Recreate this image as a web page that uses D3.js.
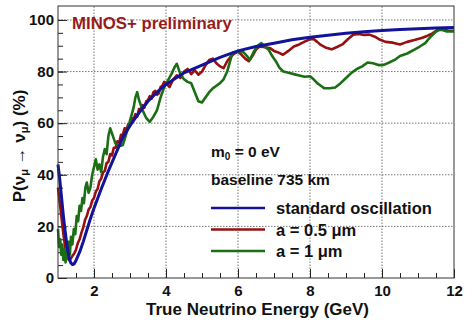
<!DOCTYPE html>
<html>
<head>
<meta charset="utf-8" />
<title>MINOS+ survival probability</title>
<script type="text/javascript" src="https://d3js.org/d3.v7.min.js"></script>
<style type="text/css">
    body { margin: 0; background: #fff; }
    svg text { font-family: "Liberation Sans", Arial, sans-serif; font-weight: bold; }
</style>
</head>
<body>
<svg width="465" height="323"></svg>
<script>
    // standard oscillation
    var stdE = [1.0, 1.05, 1.1, 1.15, 1.2, 1.25, 1.3, 1.35, 1.4, 1.45, 1.5, 1.6, 1.7, 1.8, 1.9, 2.0, 2.2, 2.4, 2.6, 2.8, 3.0, 3.25, 3.5, 3.75, 4.0, 4.5, 5.0, 5.5, 6.0, 6.5, 7.0, 7.5, 8.0, 8.5, 9.0, 9.5, 10.0, 10.5, 11.0, 11.5, 12.0];
    var stdP = [44, 38, 31, 24, 18, 12.5, 8.5, 6, 5.2, 5.5, 6.8, 10, 14, 18.5, 23, 27, 34.5, 41.5, 48, 54.5, 59, 64, 68.5, 72, 75, 79.5, 82.5, 85.5, 88, 89.7, 91, 92.3, 93.3, 94.1, 94.8, 95.4, 95.9, 96.3, 96.6, 96.9, 97.1];

    // a = 0.5 um
    var halfE = [1.0, 1.05, 1.1, 1.15, 1.2, 1.25, 1.3, 1.35, 1.4, 1.45, 1.5, 1.55, 1.6, 1.65, 1.7, 1.75, 1.8, 1.85, 1.9, 1.95, 2.0, 2.05, 2.1, 2.15, 2.2, 2.25, 2.3, 2.35, 2.4, 2.45, 2.5, 2.55, 2.6, 2.65, 2.7, 2.75, 2.8, 2.85, 2.9, 2.95, 3.0, 3.05, 3.1, 3.15, 3.2, 3.25, 3.3, 3.35, 3.4, 3.45, 3.5, 3.55, 3.6, 3.65, 3.7, 3.75, 3.8, 3.85, 3.9, 3.95, 4.0, 4.1, 4.2, 4.3, 4.4, 4.5, 4.6, 4.7, 4.8, 4.9, 5.0, 5.1, 5.2, 5.3, 5.4, 5.5, 5.6, 5.7, 5.8, 5.9, 6.0, 6.1, 6.2, 6.3, 6.4, 6.5, 6.6, 6.7, 6.8, 6.9, 7.0, 7.1, 7.25, 7.4, 7.55, 7.7, 7.85, 8.0, 8.1, 8.2, 8.3, 8.45, 8.6, 8.75, 8.9, 9.05, 9.2, 9.35, 9.5, 9.65, 9.8, 9.95, 10.1, 10.3, 10.5, 10.7, 10.9, 11.1, 11.25, 11.4, 11.55, 11.7, 11.85, 12.0];
    var halfP = [35, 29, 23, 17, 12, 8.5, 7, 7.5, 8.5, 9.5, 11, 13.5, 15, 17.5, 19.5, 22.5, 24, 26.5, 27.5, 30, 31, 33.5, 34.5, 37.5, 38.5, 41, 41.5, 44.5, 45, 48, 47.5, 50.5, 50.5, 53, 52.5, 55.5, 55.5, 58, 57.5, 59.5, 59, 62, 61.5, 63.5, 62.5, 65.5, 65.5, 67, 66, 68.5, 69, 70.5, 69.5, 72, 72.5, 71, 71.5, 74, 74.5, 76, 75.5, 74, 77, 78.5, 77.5, 80, 81, 79, 80.5, 78.8, 80, 82.5, 84.5, 85, 83.2, 82, 81.3, 84, 85.8, 87, 87.7, 86.5, 85, 84, 86, 88.5, 89.7, 89.5, 89.3, 89, 88, 87.5, 86.5, 88, 89.7, 90.5, 91.6, 92.5, 92.6, 91.5, 90.3, 89.2, 88.6, 89.5, 90.5, 92.5, 94.3, 94.6, 94.2, 94.3, 93.5, 92.3, 91.5, 91.2, 90.5, 91.5, 92.2, 93, 93.8, 94.8, 96.2, 96.3, 95.8, 95.8];

    // a = 1 um
    var oneE = [1.0, 1.03, 1.06, 1.09, 1.12, 1.15, 1.18, 1.21, 1.24, 1.27, 1.3, 1.33, 1.36, 1.4, 1.44, 1.48, 1.52, 1.56, 1.6, 1.64, 1.68, 1.72, 1.76, 1.8, 1.85, 1.9, 1.95, 2.0, 2.05, 2.1, 2.15, 2.2, 2.25, 2.3, 2.35, 2.4, 2.45, 2.5, 2.55, 2.6, 2.7, 2.8, 2.9, 3.0, 3.1, 3.15, 3.2, 3.25, 3.3, 3.35, 3.45, 3.55, 3.65, 3.75, 3.85, 3.95, 4.05, 4.15, 4.25, 4.3, 4.4, 4.5, 4.6, 4.7, 4.8, 4.9, 5.0, 5.1, 5.2, 5.3, 5.4, 5.5, 5.6, 5.7, 5.8, 5.87, 5.95, 6.05, 6.15, 6.25, 6.33, 6.45, 6.55, 6.65, 6.75, 6.85, 6.95, 7.05, 7.15, 7.26, 7.4, 7.55, 7.7, 7.85, 8.0, 8.1, 8.2, 8.3, 8.4, 8.55, 8.7, 8.85, 9.0, 9.15, 9.3, 9.45, 9.6, 9.75, 9.9, 10.05, 10.2, 10.35, 10.5, 10.7, 10.9, 11.05, 11.2, 11.35, 11.5, 11.6, 11.7, 11.8, 12.0];
    var oneP = [19, 12, 15, 9, 13, 7, 11, 6, 12, 8, 14, 9, 16, 13, 19, 17, 24, 22, 28, 26, 31, 29, 35, 37, 33, 35, 40, 43, 46, 42, 44, 41, 47, 50, 48, 55, 58, 56, 54, 52, 51, 51.5, 56, 61, 66, 70, 72, 69, 67, 65, 62, 60.5, 62.5, 65, 70, 74, 76.5, 79, 82, 83, 79, 77, 76, 75.5, 72, 68.5, 68, 70, 72, 73.5, 74.5, 75.5, 77, 80, 85, 87.5, 87.5, 88, 87.5, 86, 84.5, 88, 90, 91, 89.5, 88.5, 86, 84, 81.5, 80, 79.5, 79, 78.5, 78, 78.2, 77, 75.5, 74.5, 73.5, 73.5, 73.8, 75.5, 77.5, 79.5, 81, 82, 83.5, 83.2, 82.5, 82.6, 83.5, 84.5, 86, 87, 88.5, 89.7, 91, 93.5, 95.5, 96.2, 96, 95.5, 95.5];

    var xTicks = [2, 4, 6, 8, 10, 12];
    var yTicks = [0, 20, 40, 60, 80, 100];
    var legendNames = ["standard oscillation", "a = 0.5 \u03BCm", "a = 1 \u03BCm"];

    var svg = d3.select("svg");

    var x = d3.scaleLinear().domain([1, 12]).range([58, 454]);
    var y = d3.scaleLinear().domain([0, 105.4]).range([278, 6]);

    // grid
    var grid = svg.append("g").attr("stroke", "#555").attr("stroke-dasharray", "1.5,1.5").attr("stroke-width", 0.8);
    grid.selectAll(".gx").data(xTicks.slice(0, -1)).enter().append("line")
        .attr("x1", d => x(d)).attr("x2", d => x(d)).attr("y1", y(0)).attr("y2", y(105.4));
    grid.selectAll(".gy").data(yTicks.slice(1)).enter().append("line")
        .attr("x1", x(1)).attr("x2", x(12)).attr("y1", d => y(d)).attr("y2", d => y(d));

    // axes, ROOT style: ticks inside the frame
    var xAxis = d3.axisBottom(x).tickValues(xTicks).tickSize(-9).tickPadding(7).tickFormat(d3.format("d"));
    var xMinor = d3.axisBottom(x).tickValues(d3.range(1.5, 12, 0.5)).tickSize(-5).tickFormat("");
    var yAxis = d3.axisLeft(y).tickValues(yTicks).tickSize(-9).tickPadding(4).tickFormat(d3.format("d"));
    var yMinor = d3.axisLeft(y).tickValues(d3.range(5, 105, 5)).tickSize(-5).tickFormat("");

    [xAxis, xMinor].forEach(a => {
        svg.append("g").attr("transform", "translate(0," + y(0) + ")").call(a)
            .call(g => g.select(".domain").remove());
    });
    [yAxis, yMinor].forEach(a => {
        svg.append("g").attr("transform", "translate(" + x(1) + ",0)").call(a)
            .call(g => g.select(".domain").remove());
    });
    svg.selectAll(".tick line").attr("stroke", "#222");
    svg.selectAll(".tick text").attr("font-size", 15).attr("fill", "#111")
        .attr("font-family", "'Liberation Sans', Arial, sans-serif").attr("font-weight", "bold");

    // curves
    var line = d3.line().x(d => x(d[0])).y(d => y(d[1]));
    var series = [
        { e: halfE, p: halfP, color: "#971010", w: 2.6 },
        { e: oneE, p: oneP, color: "#1b6e14", w: 2.6 },
        { e: stdE, p: stdP, color: "#13139a", w: 3 }
    ];
    series.forEach(s => {
        svg.append("path")
            .datum(d3.zip(s.e, s.p))
            .attr("fill", "none")
            .attr("stroke", s.color)
            .attr("stroke-width", s.w)
            .attr("stroke-linejoin", "round")
            .attr("d", line);
    });

    // frame
    svg.append("rect").attr("x", x(1)).attr("y", y(105.4))
        .attr("width", x(12) - x(1)).attr("height", y(0) - y(105.4))
        .attr("fill", "none").attr("stroke", "#333").attr("stroke-width", 1);

    // titles
    svg.append("text").attr("x", 72).attr("y", 29).attr("font-size", 16.8).attr("fill", "#961c1c")
        .text("MINOS+ preliminary");

    svg.append("text").attr("x", 369).attr("y", 315).attr("text-anchor", "end").attr("font-size", 17).attr("fill", "#111")
        .text("True Neutrino Energy (GeV)");

    var yl = svg.append("text").attr("transform", "translate(25,146) rotate(-90)")
        .attr("text-anchor", "middle").attr("font-size", 17).attr("fill", "#111");
    yl.append("tspan").text("P(\u03BD");
    yl.append("tspan").attr("font-size", 11).attr("dy", 3).text("\u03BC");
    yl.append("tspan").attr("dy", -3).text(" \u2192 \u03BD");
    yl.append("tspan").attr("font-size", 11).attr("dy", 3).text("\u03BC");
    yl.append("tspan").attr("dy", -3).text(") (%)");

    // legend
    var m0 = svg.append("text").attr("x", 211).attr("y", 157).attr("font-size", 15.5).attr("fill", "#111");
    m0.append("tspan").text("m");
    m0.append("tspan").attr("font-size", 10).attr("dy", 3).text("0");
    m0.append("tspan").attr("dy", -3).text(" = 0 eV");
    svg.append("text").attr("x", 211).attr("y", 185).attr("font-size", 15.5).attr("fill", "#111")
        .text("baseline 735 km");

    var legendColors = [series[2].color, series[0].color, series[1].color];
    var leg = svg.selectAll(".leg").data(legendNames).enter().append("g")
        .attr("transform", (d, i) => "translate(0," + (208 + i * 21.5) + ")");
    leg.append("line").attr("x1", 211).attr("x2", 265)
        .attr("stroke", (d, i) => legendColors[i]).attr("stroke-width", 2.6);
    leg.append("text").attr("x", 276).attr("y", 6).attr("font-size", 16.5).attr("fill", "#111")
        .text(d => d);
</script>
</body>
</html>
